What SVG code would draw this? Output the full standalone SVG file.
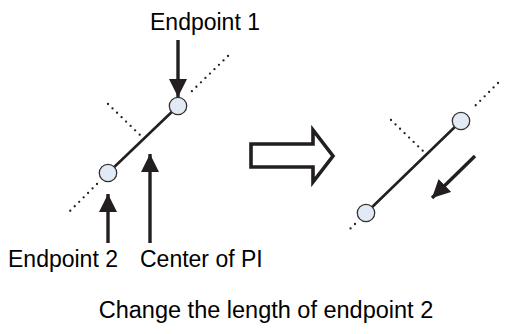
<svg xmlns="http://www.w3.org/2000/svg" width="511" height="334" viewBox="0 0 511 334">
<defs>
<marker id="ah" markerUnits="userSpaceOnUse" markerWidth="18" markerHeight="18" viewBox="0 0 16 16" refX="16" refY="8" orient="auto">
<path d="M0,0 L16,8 L0,16 Z" fill="#231f20"/>
</marker>
</defs>
<style>
.t{font-family:"Liberation Sans",Arial,sans-serif;font-size:23px;fill:#000}
.cap{font-size:23.5px}
.dot{stroke:#231f20;stroke-width:2.3;stroke-linecap:round;stroke-dasharray:0 6.3;fill:none}
.seg{stroke:#231f20;stroke-width:2.6;fill:none}
.pt{fill:#e2ebf5;stroke:#333;stroke-width:1.3}
.arr{stroke:#231f20;stroke-width:3.4;fill:none;marker-end:url(#ah)}
</style>
<rect width="511" height="334" fill="#fff"/>
<g id="connectors">
<line class="dot" x1="228" y1="56" x2="190" y2="93"/>
<line class="dot" x1="97" y1="184" x2="66" y2="215"/>
<line class="dot" x1="108" y1="104" x2="140" y2="135"/>
<line class="seg" x1="178" y1="106" x2="108" y2="173"/>
<line class="arr" x1="178" y1="40" x2="178" y2="97"/>
<line class="arr" x1="108" y1="243" x2="108" y2="194"/>
<line class="arr" x1="150" y1="243" x2="150" y2="154"/>
<line class="dot" x1="498" y1="83" x2="473" y2="108"/>
<line class="dot" x1="391" y1="120" x2="423" y2="151"/>
<line class="dot" x1="355" y1="224" x2="348" y2="231"/>
<line class="seg" x1="461" y1="121" x2="366" y2="213"/>
<line class="arr" x1="475" y1="156" x2="432" y2="198"/>
</g>
<g id="big-arrow">
<path d="M251,144 L313,144 L313,130 L333,156 L313,182 L313,167 L251,167 Z" fill="#fff" stroke="#231f20" stroke-width="3.6" stroke-linejoin="miter"/>
</g>
<g id="endpoint1"><circle class="pt" cx="178" cy="106" r="8.7"/></g>
<g id="endpoint2"><circle class="pt" cx="108" cy="173" r="8.7"/></g>
<g id="endpoint1-new"><circle class="pt" cx="461" cy="121" r="8.7"/></g>
<g id="endpoint2-new"><circle class="pt" cx="366" cy="213" r="8.7"/></g>
<g id="label-endpoint1"><text class="t" x="205" y="30" text-anchor="middle">Endpoint 1</text></g>
<g id="label-endpoint2"><text class="t" x="8" y="267">Endpoint 2</text></g>
<g id="label-center"><text class="t" x="140" y="267">Center of PI</text></g>
<g id="caption"><text class="t cap" x="266" y="318" text-anchor="middle">Change the length of endpoint 2</text></g>
</svg>
